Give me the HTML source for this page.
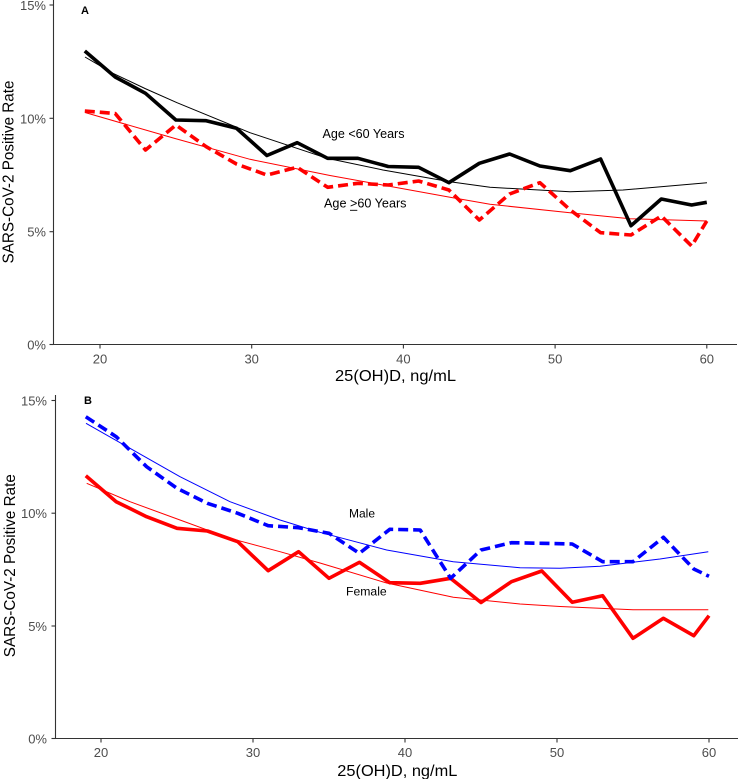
<!DOCTYPE html>
<html>
<head>
<meta charset="utf-8">
<style>
  html, body { margin: 0; padding: 0; background: #ffffff; }
  svg { display: block; }
  text { font-family: "Liberation Sans", Arial, sans-serif; }
</style>
</head>
<body>
<svg width="740" height="779" viewBox="0 0 740 779" xmlns="http://www.w3.org/2000/svg">
  <rect width="740" height="779" fill="#ffffff"/>

  <!-- ================= PANEL A ================= -->
  <!-- axes -->
  <line x1="53.5" y1="0" x2="53.5" y2="345" stroke="#333" stroke-width="1.1"/>
  <line x1="53" y1="344.5" x2="737" y2="344.5" stroke="#333" stroke-width="1.1"/>
  <!-- y ticks -->
  <g stroke="#333" stroke-width="1.1">
    <line x1="49.5" y1="5" x2="53.5" y2="5"/>
    <line x1="49.5" y1="118.3" x2="53.5" y2="118.3"/>
    <line x1="49.5" y1="231.7" x2="53.5" y2="231.7"/>
    <line x1="49.5" y1="344.5" x2="53.5" y2="344.5"/>
  </g>
  <g font-size="13" fill="#4d4d4d" text-anchor="end">
    <text x="46" y="10">15%</text>
    <text x="46" y="123.3">10%</text>
    <text x="46" y="236.7">5%</text>
    <text x="46" y="349.5">0%</text>
  </g>
  <!-- x ticks -->
  <g stroke="#333" stroke-width="1.1">
    <line x1="100" y1="344.5" x2="100" y2="348.5"/>
    <line x1="251.7" y1="344.5" x2="251.7" y2="348.5"/>
    <line x1="403.4" y1="344.5" x2="403.4" y2="348.5"/>
    <line x1="555.1" y1="344.5" x2="555.1" y2="348.5"/>
    <line x1="706.8" y1="344.5" x2="706.8" y2="348.5"/>
  </g>
  <g font-size="13" fill="#4d4d4d" text-anchor="middle">
    <text x="100" y="363.7">20</text>
    <text x="251.7" y="363.7">30</text>
    <text x="403.4" y="363.7">40</text>
    <text x="555.1" y="363.7">50</text>
    <text x="706.8" y="363.7">60</text>
  </g>
  <text x="395.5" y="381" font-size="16" text-anchor="middle" textLength="121" lengthAdjust="spacingAndGlyphs" fill="#000">25(OH)D, ng/mL</text>
  <text transform="translate(13.3,172) rotate(-90)" font-size="15.5" text-anchor="middle" textLength="183" lengthAdjust="spacingAndGlyphs" fill="#000">SARS-CoV-2 Positive Rate</text>
  <text x="81" y="14" font-size="11" font-weight="bold" fill="#000">A</text>

  <!-- fitted curves -->
  <polyline fill="none" stroke="#000" stroke-width="1" stroke-linejoin="round"
    points="85,57 113,73.3 145,88.5 177,102.7 250,132.7 327,158.3 383,170 450,181.7 490,187.3 570,191.7 623,190 707,182.7"/>
  <polyline fill="none" stroke="#ff0000" stroke-width="1" stroke-linejoin="round"
    points="85,112.5 175,138.5 250,159.3 330,175.5 410,190 450,197.3 490,204.3 570,212.7 630,218.7 707,221"/>
  <!-- raw lines -->
  <polyline fill="none" stroke="#000" stroke-width="3.6" stroke-linejoin="round"
    points="84.8,51 115.2,77 145.5,93.3 175.9,120 206.2,120.7 236.5,128.3 266.9,155.5 297.2,142.7 327.6,158.3 357.9,158.3 388.2,166.5 418.6,167.3 448.9,182.7 479.3,163.3 509.6,154 539.9,166 570.3,170.7 600.6,159 631,225.7 661.3,199 691.6,205 706.8,202.3"/>
  <polyline fill="none" stroke="#ff0000" stroke-width="3.6" stroke-dasharray="10 5" stroke-linejoin="round"
    points="84.8,111 115.2,113.5 145.5,150 175.9,125 206.2,146.7 236.5,164 266.9,175 297.2,167.3 327.6,187.3 357.9,183.3 388.2,185 418.6,181 448.9,190 479.3,220 509.6,194 539.9,182.7 570.3,210 600.6,232.7 631,235 661.3,216 691.6,246 706.8,221"/>

  <text x="322.5" y="138" font-size="12.5" textLength="82" lengthAdjust="spacingAndGlyphs" fill="#000">Age &lt;60 Years</text>
  <text x="324" y="207.5" font-size="12.5" textLength="82.5" lengthAdjust="spacingAndGlyphs" fill="#000">Age &gt;60 Years</text>
  <line x1="350" y1="210.3" x2="357.3" y2="210.3" stroke="#000" stroke-width="0.9"/>

  <!-- ================= PANEL B ================= -->
  <line x1="55.5" y1="395" x2="55.5" y2="739" stroke="#333" stroke-width="1.1"/>
  <line x1="55" y1="738.5" x2="738" y2="738.5" stroke="#333" stroke-width="1.1"/>
  <g stroke="#333" stroke-width="1.1">
    <line x1="51.5" y1="400.5" x2="55.5" y2="400.5"/>
    <line x1="51.5" y1="513.2" x2="55.5" y2="513.2"/>
    <line x1="51.5" y1="626" x2="55.5" y2="626"/>
    <line x1="51.5" y1="738.5" x2="55.5" y2="738.5"/>
  </g>
  <g font-size="13" fill="#4d4d4d" text-anchor="end">
    <text x="47" y="405.5">15%</text>
    <text x="47" y="518.2">10%</text>
    <text x="47" y="631">5%</text>
    <text x="47" y="743.5">0%</text>
  </g>
  <g stroke="#333" stroke-width="1.1">
    <line x1="101" y1="738.5" x2="101" y2="742.5"/>
    <line x1="253" y1="738.5" x2="253" y2="742.5"/>
    <line x1="405" y1="738.5" x2="405" y2="742.5"/>
    <line x1="557" y1="738.5" x2="557" y2="742.5"/>
    <line x1="709" y1="738.5" x2="709" y2="742.5"/>
  </g>
  <g font-size="13" fill="#4d4d4d" text-anchor="middle">
    <text x="101" y="757">20</text>
    <text x="253" y="757">30</text>
    <text x="405" y="757">40</text>
    <text x="557" y="757">50</text>
    <text x="709" y="757">60</text>
  </g>
  <text x="397.3" y="776" font-size="16" text-anchor="middle" textLength="120" lengthAdjust="spacingAndGlyphs" fill="#000">25(OH)D, ng/mL</text>
  <text transform="translate(15,565.7) rotate(-90)" font-size="15.5" text-anchor="middle" textLength="183" lengthAdjust="spacingAndGlyphs" fill="#000">SARS-CoV-2 Positive Rate</text>
  <text x="84" y="404" font-size="11" font-weight="bold" fill="#000">B</text>

  <!-- fitted curves -->
  <polyline fill="none" stroke="#0000ff" stroke-width="1" stroke-linejoin="round"
    points="86,423.3 130,448.3 180,476.7 230,501.7 280,520 320,532.3 386.7,550 453.3,561.7 520,567.7 560,568.3 600,566.3 633,562.3 660,559 708.3,551.7"/>
  <polyline fill="none" stroke="#ff0000" stroke-width="1" stroke-linejoin="round"
    points="86.7,483.3 130,501.7 180,520 230,538.3 280,551.7 320,563 386.7,583 453.3,597.3 520,604 560,606.5 633,609.7 708.3,609.7"/>
  <!-- raw lines -->
  <polyline fill="none" stroke="#ff0000" stroke-width="3.6" stroke-linejoin="round"
    points="85.8,475.7 116.2,501.7 146.6,516.7 177,528.3 207.4,531 237.8,541.7 268.2,570.7 298.6,551.7 329,578.3 359.4,562.3 389.8,582.7 420.2,583.3 450.6,578.3 481,602.5 511.4,581.7 541.8,571 572.2,602.3 602.6,595.7 633,638.3 663.4,618.3 693.8,635.7 709,615.7"/>
  <polyline fill="none" stroke="#0000ff" stroke-width="3.6" stroke-dasharray="10 5" stroke-linejoin="round"
    points="85.8,416.7 116.2,436.7 146.6,466.7 177,488.3 207.4,503.3 237.8,513.3 268.2,525.7 298.6,527.7 329,533.3 359.4,553.3 389.8,529.3 420.2,530 450.6,578.3 481,550 511.4,542.7 541.8,543.3 572.2,544 602.6,561.7 633,561.7 663.4,537.3 693.8,569 709,576.3"/>

  <text x="349" y="517.3" font-size="12.3" textLength="26" lengthAdjust="spacingAndGlyphs" fill="#000">Male</text>
  <text x="346" y="595.5" font-size="12.3" textLength="40.7" lengthAdjust="spacingAndGlyphs" fill="#000">Female</text>
</svg>
</body>
</html>
